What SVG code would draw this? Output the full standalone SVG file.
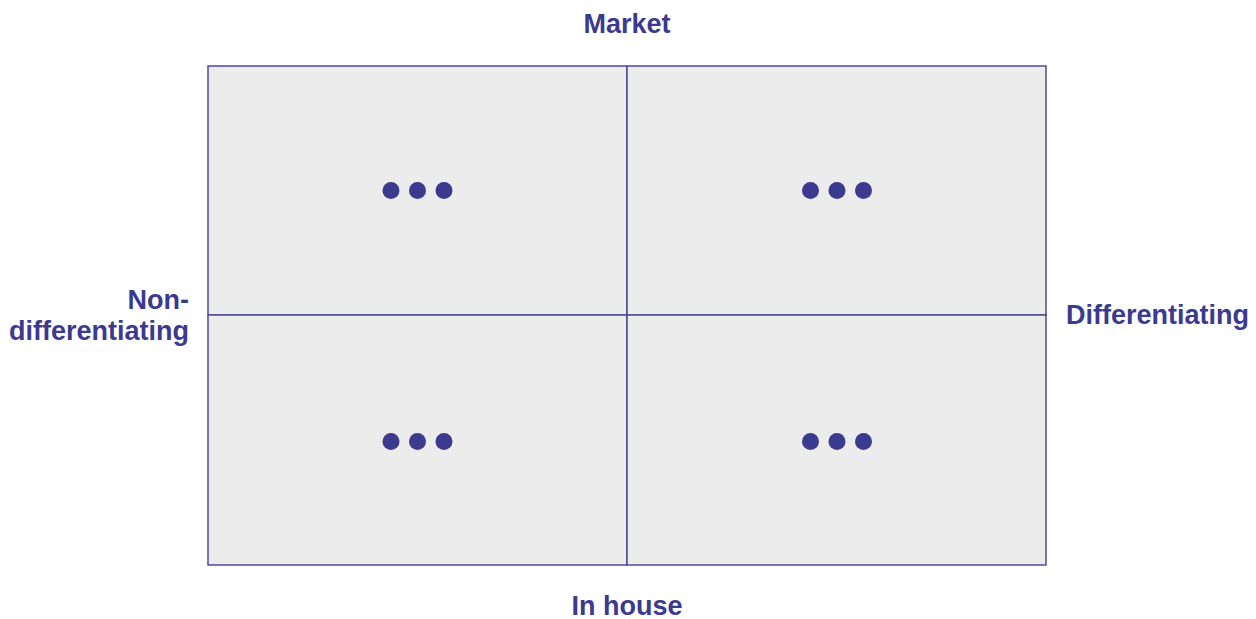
<svg xmlns="http://www.w3.org/2000/svg" width="1256" height="619" viewBox="0 0 1256 619">
<style>
.lbl{font-family:"Liberation Sans",Arial,sans-serif;font-weight:bold;font-size:27px;fill:#3b3a8f}
.cell{fill:#ececec;stroke:#4e4a96;stroke-width:1.5}
.dot{fill:#3b3a8f}
</style>
<rect width="1256" height="619" fill="#ffffff"/>
<g id="quadrant-top-left">
<rect class="cell" x="208" y="66" width="419" height="249"/>
<circle class="dot" cx="391" cy="190.5" r="8.5"/><circle class="dot" cx="417.5" cy="190.5" r="8.5"/><circle class="dot" cx="444" cy="190.5" r="8.5"/>
</g>
<g id="quadrant-top-right">
<rect class="cell" x="627" y="66" width="419" height="249"/>
<circle class="dot" cx="810.5" cy="190.5" r="8.5"/><circle class="dot" cx="837" cy="190.5" r="8.5"/><circle class="dot" cx="863.5" cy="190.5" r="8.5"/>
</g>
<g id="quadrant-bottom-left">
<rect class="cell" x="208" y="315" width="419" height="250"/>
<circle class="dot" cx="391" cy="441.5" r="8.5"/><circle class="dot" cx="417.5" cy="441.5" r="8.5"/><circle class="dot" cx="444" cy="441.5" r="8.5"/>
</g>
<g id="quadrant-bottom-right">
<rect class="cell" x="627" y="315" width="419" height="250"/>
<circle class="dot" cx="810.5" cy="441.5" r="8.5"/><circle class="dot" cx="837" cy="441.5" r="8.5"/><circle class="dot" cx="863.5" cy="441.5" r="8.5"/>
</g>
<g id="connectors"></g>
<g id="label-market"><text class="lbl" x="627" y="33" text-anchor="middle">Market</text></g>
<g id="label-inhouse"><text class="lbl" x="627" y="615" text-anchor="middle">In house</text></g>
<g id="label-differentiating"><text class="lbl" x="1066" y="324">Differentiating</text></g>
<g id="label-nondifferentiating"><text class="lbl" x="189" y="309" text-anchor="end">Non-</text><text class="lbl" x="189" y="340" text-anchor="end">differentiating</text></g>
</svg>
